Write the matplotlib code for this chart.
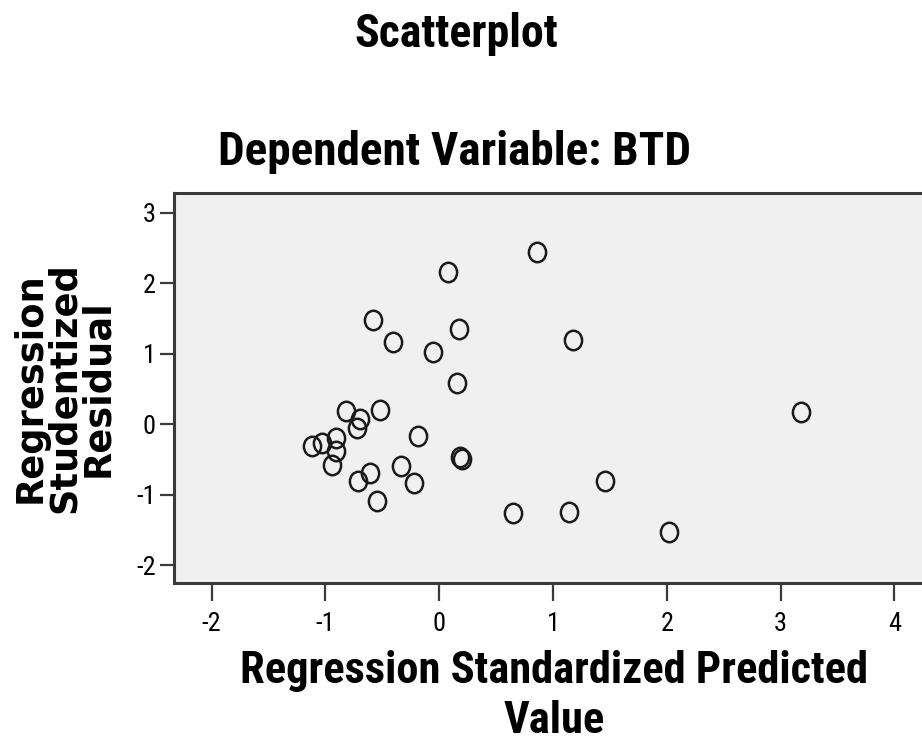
import matplotlib
matplotlib.use("Agg")
import matplotlib.pyplot as plt
from matplotlib.path import Path
from matplotlib.transforms import Affine2D

# ---- data ----
pred_value = [0.856, 0.074, -0.585, 0.170, -0.409, -0.053, 0.153, -0.823, -0.518,
              -0.697, -0.726, -0.185, -0.908, -1.121, -1.033, -0.908, -0.940,
              0.182, 0.199, -0.337, -0.609, -0.712, -0.220, -0.547, 0.650,
              1.172, 3.176, 1.459, 1.142, 2.018]
stud_resid = [2.437, 2.163, 1.482, 1.349, 1.169, 1.023, 0.582, 0.189, 0.203,
              0.071, -0.048, -0.166, -0.190, -0.304, -0.270, -0.379, -0.578,
              -0.460, -0.489, -0.592, -0.696, -0.805, -0.838, -1.089, -1.264,
              1.197, 0.170, -0.805, -1.246, -1.530]
x_ticks = [-2, -1, 0, 1, 2, 3, 4]
y_ticks = [-2, -1, 0, 1, 2, 3]

fam = ["Roboto Condensed", "Liberation Sans", "DejaVu Sans"]

W, H = 922, 749
fig = plt.figure(figsize=(W / 100, H / 100), dpi=100)
fig.patch.set_facecolor("white")

ax = fig.add_axes([174 / W, 1 - 583 / H, (940 - 174) / W, (583 - 192.5) / H])
ax.set_facecolor("#f0f0f0")

# slightly tall open circle, as in the reference
ellipse = Path.unit_circle().transformed(Affine2D().scale(1.0, 1.13))
ax.plot(pred_value, stud_resid, linestyle="none", marker=ellipse, markersize=14,
        markerfacecolor="none", markeredgecolor="#1a1a1a", markeredgewidth=1.8)

ax.set_xlim(-2.331, 4.40)
ax.set_ylim(-2.254, 3.286)
ax.set_xticks(x_ticks)
ax.set_yticks(y_ticks)
ax.set_xticklabels([str(v) for v in x_ticks], family=fam, fontsize=19)
ax.set_yticklabels([str(v) for v in y_ticks], family=fam, fontsize=19)

for side in ["left", "top", "bottom"]:
    ax.spines[side].set_color("#3a3a3a")
    ax.spines[side].set_linewidth(2.2)
ax.spines["right"].set_visible(False)
ax.tick_params(axis="x", direction="out", length=13, width=1.6, color="#3a3a3a",
               pad=8, top=False)
ax.tick_params(axis="y", direction="out", length=10, width=1.6, color="#3a3a3a",
               pad=3, right=False)

fig.text(456 / W, 1 - 47 / H, "Scatterplot", ha="center", va="baseline",
         family=fam, fontweight="bold", fontsize=33)
fig.text(454 / W, 1 - 165 / H, "Dependent Variable: BTD", ha="center", va="baseline",
         family=fam, fontweight="bold", fontsize=34)
fig.text(554 / W, 1 - 683 / H, "Regression Standardized Predicted", ha="center",
         va="baseline", family=fam, fontweight="bold", fontsize=32)
fig.text(554 / W, 1 - 733 / H, "Value", ha="center", va="baseline",
         family=fam, fontweight="bold", fontsize=32)
fig.text(64 / W, 1 - 388 / H, "Regression\nStudentized\nResidual", ha="center",
         va="center", rotation=90, multialignment="center", linespacing=0.9,
         family=["DejaVu Sans"], fontweight="bold", fontsize=26.5)

fig.savefig("out.png", dpi=100, facecolor="white")
